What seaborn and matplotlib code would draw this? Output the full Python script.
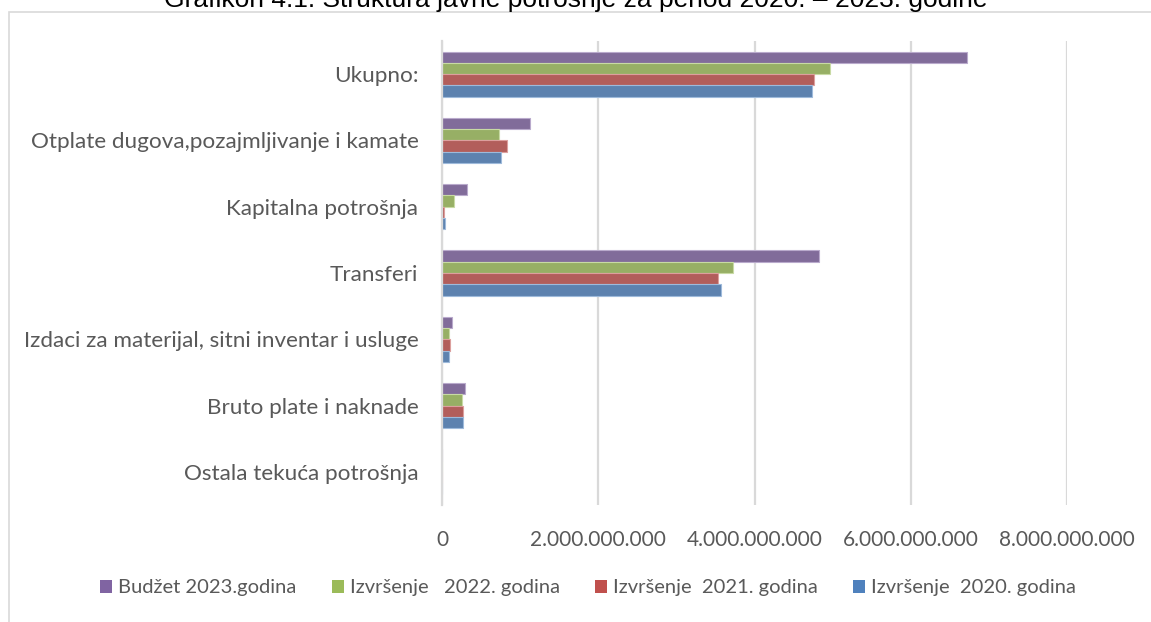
import matplotlib
matplotlib.use("Agg")
import matplotlib.pyplot as plt
import matplotlib.colors as mcolors
from matplotlib.patches import Rectangle
from matplotlib.ticker import FuncFormatter, FixedLocator
import seaborn as sns
import pandas as pd

categories = [
    "Ukupno:",
    "Otplate dugova,pozajmljivanje i kamate",
    "Kapitalna potrošnja",
    "Transferi",
    "Izdaci za materijal, sitni inventar i usluge",
    "Bruto plate i naknade",
    "Ostala tekuća potrošnja",
]
series_names = [
    "Budžet 2023.godina",
    "Izvršenje   2022. godina",
    "Izvršenje  2021. godina",
    "Izvršenje  2020. godina",
]
budzet_2023 = [6.72e9, 1.12e9, 0.325e9, 4.83e9, 0.128e9, 0.30e9, 0.0]
izvrsenje_2022 = [4.97e9, 0.727e9, 0.15e9, 3.72e9, 0.094e9, 0.26e9, 0.0]
izvrsenje_2021 = [4.76e9, 0.833e9, 0.03e9, 3.53e9, 0.10e9, 0.265e9, 0.0]
izvrsenje_2020 = [4.73e9, 0.76e9, 0.035e9, 3.57e9, 0.09e9, 0.265e9, 0.0]
x_ticks = [0, 2e9, 4e9, 6e9, 8e9]
title = "Grafikon 4.1. Struktura javne potrošnje za period 2020. – 2023. godine"

colors = ["#8064A2", "#9BBB59", "#C0504D", "#4F81BD"]

rows = []
for name, vals in zip(series_names, [budzet_2023, izvrsenje_2022, izvrsenje_2021, izvrsenje_2020]):
    for c, v in zip(categories, vals):
        rows.append({"Kategorija": c, "Serija": name, "Vrijednost": v})
df = pd.DataFrame(rows)

sns.set_theme(style="white")
plt.rcParams["font.family"] = ["Lato", "DejaVu Sans"]

W, H = 1151, 622
fig = plt.figure(figsize=(W / 100, H / 100), dpi=100)
ax = fig.add_axes([442 / W, 1 - 505 / H, (1067 - 442) / W, (505 - 41) / H])

sns.barplot(
    data=df, y="Kategorija", x="Vrijednost", hue="Serija",
    order=categories, hue_order=series_names, palette=colors,
    orient="h", width=0.68, ax=ax, legend=False, errorbar=None,
)

for bar_container, col in zip(ax.containers, colors):
    light = tuple(0.55 * c + 0.45 for c in mcolors.to_rgb(col))
    for p in bar_container.patches:
        p.set_edgecolor(light)
        p.set_linewidth(0.8)

ax.set_xlim(0, 8e9)
ax.xaxis.set_major_locator(FixedLocator(x_ticks))
ax.xaxis.set_major_formatter(FuncFormatter(lambda v, _: "0" if v == 0 else f"{int(v):,}".replace(",", ".")))
ax.grid(axis="x", color="#D9D9D9", linewidth=1.6)
ax.set_axisbelow(True)
for s in ["top", "right", "bottom"]:
    ax.spines[s].set_visible(False)
ax.spines["left"].set_color("#D9D9D9")
ax.spines["left"].set_linewidth(1.6)
ax.set_xlabel("")
ax.set_ylabel("")
ax.tick_params(axis="x", length=0, pad=18, labelsize=15, labelcolor="#595959")
ax.tick_params(axis="y", length=0, pad=17, labelsize=16.2, labelcolor="#595959")

# outer chart border
fig.patches.append(Rectangle((9 / W, -0.1), 1.2, 1 - 12 / H + 0.1, transform=fig.transFigure,
                             fill=False, edgecolor="#D9D9D9", linewidth=1.2))

fig.text(0.5, 1 - 7 / H, title, ha="center", va="baseline", fontsize=19,
         family=["Liberation Sans", "DejaVu Sans"], color="#000000")

handles = [Rectangle((0, 0), 1, 1, facecolor=c, edgecolor="none") for c in colors]
fig.legend(handles, series_names, loc="center", bbox_to_anchor=(0.511, 1 - 588 / H),
           ncol=4, frameon=False, fontsize=14.5, handlelength=0.6, handleheight=0.6,
           handletextpad=0.3, columnspacing=1.75, labelcolor="#595959")

fig.savefig("out.png", dpi=100)
